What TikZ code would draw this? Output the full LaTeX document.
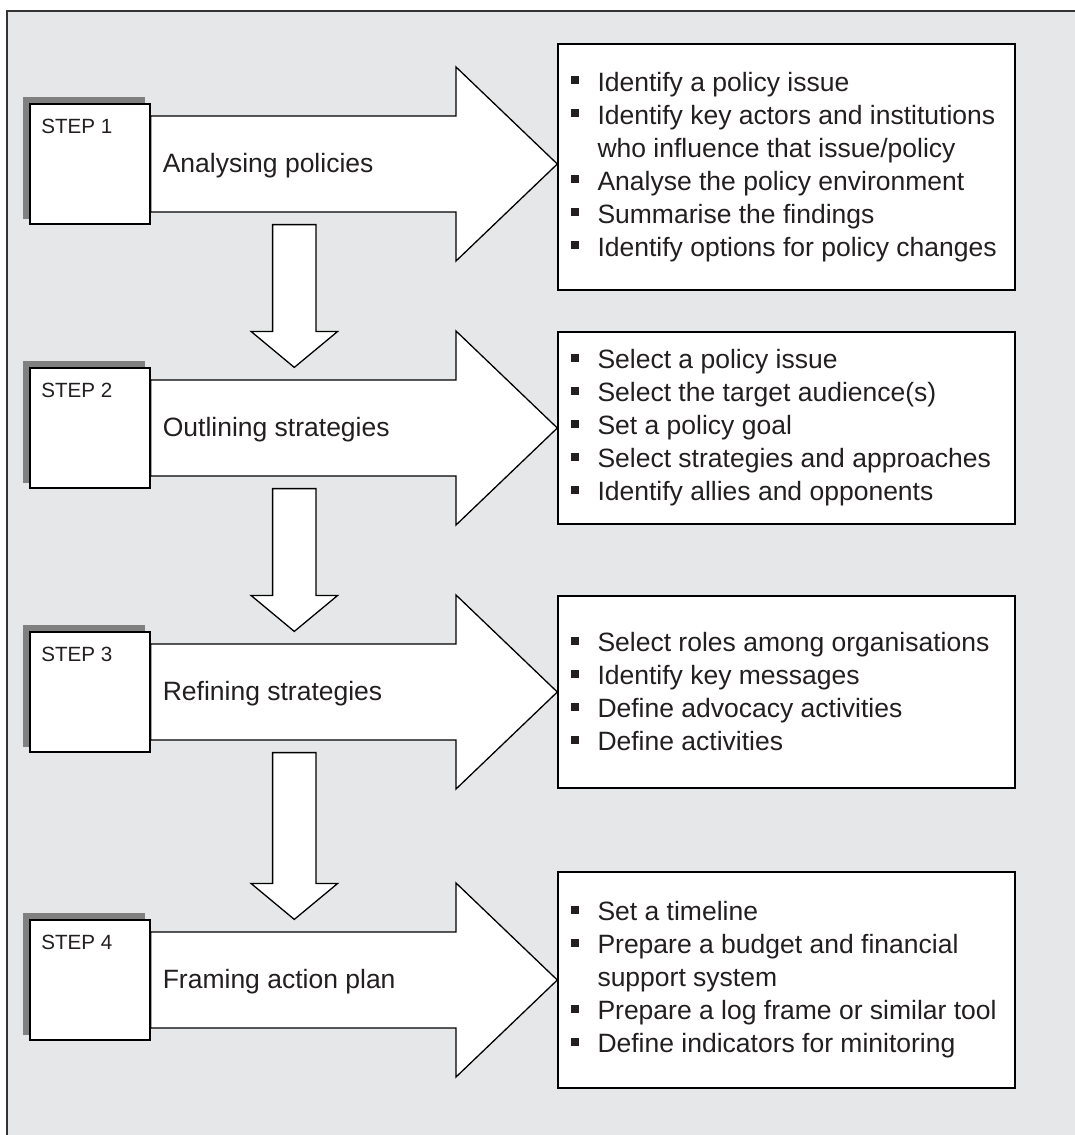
\documentclass[tikz,border=0pt]{standalone}
\usepackage{fontspec}
\setmainfont{Liberation Sans}
\usetikzlibrary{calc}
\definecolor{bgc}{HTML}{E6E7E8}
\definecolor{shadowgray}{HTML}{808080}
\definecolor{framec}{HTML}{333333}
\definecolor{txt}{HTML}{231F20}
\pgfdeclarelayer{backlayer}
\pgfsetlayers{backlayer,main}
\newcommand\bl{\makebox[27pt][l]{\rule[7pt]{8pt}{8pt}}}
\newcommand\cont{\hspace*{27pt}}
\newcommand\bigarrow[2]{%
  \draw[bigarrowsty] let \p1=(#1.east), \p2=(#2.west) in
    (\x1,\y1+48pt) -- (\x2-101.3pt,\y1+48pt) -- (\x2-101.3pt,\y1+97pt) --
    (\x2,\y1) -- (\x2-101.3pt,\y1-97pt) -- (\x2-101.3pt,\y1-48pt) --
    (\x1,\y1-48pt) -- cycle;}
\newcommand\downarr[2]{%
  \draw[bigarrowsty] let \p1=(#1.south), \p2=(#2.north) in
    (\x1+182.6pt,\y1) -- (\x1+226pt,\y1) -- (\x1+226pt,\y2+36pt) --
    (\x1+247.7pt,\y2+36pt) -- (\x1+204.3pt,\y2) -- (\x1+161pt,\y2+36pt) --
    (\x1+182.6pt,\y2+36pt) -- cycle;}
\newcommand\stepshadow[1]{%
  \fill[shadowgray] ([shift={(-6pt,6pt)}]#1.south west) rectangle ([shift={(-6pt,6pt)}]#1.north east);}
\tikzset{
  stepbox/.style={draw=black, line width=1.2pt, fill=white, minimum width=120pt,
    minimum height=120pt, inner sep=0pt},
  bigarrowsty/.style={draw=black, line width=1.3pt, fill=white, line join=miter},
  bbox/.style={draw=black, line width=1.4pt, fill=white, minimum width=457pt, inner sep=0pt},
  btext/.style={anchor=west, inner sep=0pt, align=left,
    font=\fontsize{26.5}{33}\selectfont, text=txt},
  steplbl/.style={anchor=base west, inner sep=0pt, font=\fontsize{20.6}{24}\selectfont, text=txt},
  steptitle/.style={anchor=base west, inner sep=0pt, font=\fontsize{26.5}{32}\selectfont, text=txt}
}
\begin{document}
\begin{tikzpicture}[x=1pt,y=1pt]
\useasboundingbox (0,0) rectangle (1075,-1135);
\begin{pgfonlayer}{backlayer}
  \fill[white] (0,0) rectangle (1075,-1135);
  \fill[bgc] (7,-11) rectangle (1090,-1150);
  \draw[framec, line width=2pt] (7,-1150) -- (7,-11) -- (1090,-11);
\end{pgfonlayer}

% step boxes
\node[stepbox] (s1) at (90,-164) {};
\node[stepbox] (s2) at (90,-428) {};
\node[stepbox] (s3) at (90,-692) {};
\node[stepbox] (s4) at (90,-980) {};

% bullet boxes
\node[bbox, minimum height=246pt] (b1) at (786.5,-167) {};
\node[bbox, minimum height=192pt] (b2) at (786.5,-428) {};
\node[bbox, minimum height=192pt] (b3) at (786.5,-692) {};
\node[bbox, minimum height=216pt] (b4) at (786.5,-980) {};

\begin{pgfonlayer}{backlayer}
  \stepshadow{s1}
  \stepshadow{s2}
  \stepshadow{s3}
  \stepshadow{s4}
  \bigarrow{s1}{b1}
  \bigarrow{s2}{b2}
  \bigarrow{s3}{b3}
  \bigarrow{s4}{b4}
  \downarr{s1}{s2}
  \downarr{s2}{s3}
  \downarr{s3}{s4}
\end{pgfonlayer}

% step labels
\node[steplbl] (s1l) at ([xshift=11.7pt,yshift=-30pt]s1.north west) {STEP 1};
\node[steplbl] (s2l) at ([xshift=11.7pt,yshift=-30pt]s2.north west) {STEP 2};
\node[steplbl] (s3l) at ([xshift=11.7pt,yshift=-30pt]s3.north west) {STEP 3};
\node[steplbl] (s4l) at ([xshift=11.7pt,yshift=-30pt]s4.north west) {STEP 4};

\node[steptitle] (s1t) at ([xshift=12pt,yshift=-8.3pt]s1.east) {Analysing policies};
\node[steptitle] (s2t) at ([xshift=12pt,yshift=-8.3pt]s2.east) {Outlining strategies};
\node[steptitle] (s3t) at ([xshift=12pt,yshift=-8.3pt]s3.east) {Refining strategies};
\node[steptitle] (s4t) at ([xshift=12pt,yshift=-8.3pt]s4.east) {Framing action plan};

% bullet texts
\node[btext] (b1t) at ([xshift=13pt]b1.west) {%
\bl Identify a policy issue\\
\bl Identify key actors and institutions\\
\cont who influence that issue/policy\\
\bl Analyse the policy environment\\
\bl Summarise the findings\\
\bl Identify options for policy changes};
\node[btext] (b2t) at ([xshift=13pt]b2.west) {%
\bl Select a policy issue\\
\bl Select the target audience(s)\\
\bl Set a policy goal\\
\bl Select strategies and approaches\\
\bl Identify allies and opponents};
\node[btext] (b3t) at ([xshift=13pt]b3.west) {%
\bl Select roles among organisations\\
\bl Identify key messages\\
\bl Define advocacy activities\\
\bl Define activities};
\node[btext] (b4t) at ([xshift=13pt]b4.west) {%
\bl Set a timeline\\
\bl Prepare a budget and financial\\
\cont support system\\
\bl Prepare a log frame or similar tool\\
\bl Define indicators for minitoring};
\end{tikzpicture}
\end{document}
